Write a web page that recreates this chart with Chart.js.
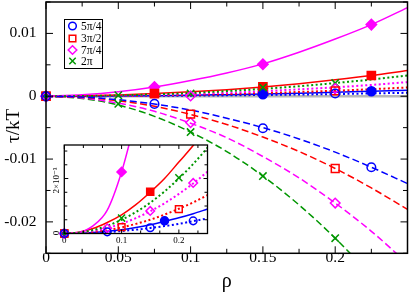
<!DOCTYPE html>
<html>
<head>
<meta charset="utf-8">
<script src="https://cdn.jsdelivr.net/npm/chart.js@4.4.1/dist/chart.umd.min.js"></script>
<style>
  html, body { margin: 0; padding: 0; background: #fff; }
  #wrap { position: relative; width: 409px; height: 294px; overflow: hidden; }
  #main { position: absolute; left: 0; top: 0; }
  #inset { position: absolute; left: 40px; top: 140px; }
</style>
</head>
<body>
<div id="wrap">
  <canvas id="main" width="409" height="294"></canvas>
  <canvas id="inset" width="175" height="110"></canvas>
</div>
<script>
// ---- main plot data ----
var rho = [0, 0.025, 0.05, 0.075, 0.1, 0.125, 0.15, 0.175, 0.2, 0.225, 0.25];

// solid curves (positive side)
var magSolid  = [0, 0.00024, 0.00072, 0.00148, 0.0025, 0.0037, 0.00515, 0.0070, 0.0091, 0.0114, 0.0141];
var redSolid  = [0, 0.00006, 0.0002, 0.00042, 0.0007, 0.00105, 0.00148, 0.002, 0.00262, 0.0033, 0.0041];
var blueSolid = [0, 0.00001, 0.00004, 0.00009, 0.00016, 0.00025, 0.00034, 0.00048, 0.00063, 0.0008, 0.00097];

// dotted curves (positive side)
var greenDot = [0, 0.00003, 0.00013, 0.0003, 0.00052, 0.00082, 0.00118, 0.0016, 0.0021, 0.00266, 0.0033];
var magDot   = [0, 0.00002, 0.00009, 0.0002, 0.00036, 0.00056, 0.0008, 0.0011, 0.00142, 0.0018, 0.00225];
var redDot   = [0, 0.00001, 0.00006, 0.00012, 0.00022, 0.00035, 0.0005, 0.00068, 0.00088, 0.00112, 0.0014];
var blueDot  = [0, 0.00001, 0.00002, 0.00005, 0.00009, 0.00014, 0.0002, 0.00027, 0.00035, 0.00045, 0.00055];

// dashed curves (negative side)
var blueDash  = [0, -0.00014, -0.00056, -0.00125, -0.0022, -0.0035, -0.005, -0.0068, -0.0089, -0.0113, -0.0139];
var redDash   = [0, -0.00018, -0.00072, -0.0016, -0.0029, -0.0045, -0.0065, -0.0088, -0.0115, -0.0146, -0.018];
var magDash   = [0, -0.00027, -0.0011, -0.0024, -0.0043, -0.0066, -0.0096, -0.013, -0.017, -0.0215, -0.0266];
var greenDash = [0, -0.00035, -0.0014, -0.0032, -0.0057, -0.0088, -0.0127, -0.0173, -0.0226, -0.0286, -0.0353];

// symbols
var magFillRho  = [0, 0.075, 0.15, 0.225];
var magFillTau  = [0, 0.00148, 0.00508, 0.0114];
var redFillRho  = [0, 0.075, 0.15, 0.225];
var redFillTau  = [0, 0.00043, 0.00148, 0.0033];
var blueFillRho = [0, 0.15, 0.225];
var blueFillTau = [0, 0.00032, 0.0008];
var blueOpenRho = [0, 0.075, 0.15, 0.225, 0.2];
var blueOpenTau = [0, -0.00122, -0.0051, -0.0113, 0.00043];
var redOpenRho  = [0, 0.1, 0.2, 0.2];
var redOpenTau  = [0, -0.00285, -0.0115, 0.00084];
var magOpenRho  = [0, 0.1, 0.2, 0.1, 0.2];
var magOpenTau  = [0, -0.0042, -0.017, 0.00005, 0.00122];
var greenXRho   = [0, 0.05, 0.1, 0.15, 0.2, 0.05, 0.1, 0.15, 0.2];
var greenXTau   = [0, -0.0012, -0.0057, -0.0127, -0.0226, 0.00016, 0.00043, 0.0014, 0.0021];

var mainXTicks  = [0, 0.025, 0.05, 0.075, 0.1, 0.125, 0.15, 0.175, 0.2, 0.225, 0.25];
var mainXLabels = ['0', '', '0.05', '', '0.1', '', '0.15', '', '0.2', '', ''];
var mainYTicks  = [-0.025, -0.02, -0.015, -0.01, -0.005, 0, 0.005, 0.01, 0.015];
var mainYLabels = ['', '-0.02', '', '-0.01', '', '0', '', '0.01', ''];

var legendNames = ['5\u03c0/4', '3\u03c0/2', '7\u03c0/4', '2\u03c0'];

// ---- inset data ----
var inRho = [0, 0.025, 0.05, 0.075, 0.1, 0.125, 0.15, 0.175, 0.2, 0.225, 0.25];
var inMagSolid  = [0, 0.00004, 0.00028, 0.00085, 0.00224, 0.0042];
var inRedSolid  = [0, 0.00005, 0.00018, 0.0004, 0.00068, 0.00105, 0.0015, 0.002, 0.0026, 0.0032, 0.0039];
var inBlueSolid = [0, 0.00001, 0.000036, 0.00008, 0.00014, 0.00022, 0.00032, 0.00044, 0.00057, 0.00072, 0.00089];
var inGreenDot  = [0, 0.00003, 0.000125, 0.00028, 0.0005, 0.00078, 0.00112, 0.00153, 0.002, 0.00253, 0.00312];
var inMagDot    = [0, 0.00002, 0.00009, 0.0002, 0.00036, 0.00056, 0.00081, 0.0011, 0.00144, 0.00182, 0.00225];
var inRedDot    = [0, 0.000014, 0.000056, 0.000126, 0.00022, 0.00035, 0.0005, 0.00069, 0.0009, 0.00113, 0.0014];
var inBlueDot   = [0, 0.000005, 0.000022, 0.00005, 0.000088, 0.00014, 0.0002, 0.00027, 0.00035, 0.00045, 0.00055];

var inMagFillRho  = [0, 0.1];
var inMagFillTau  = [0, 0.00224];
var inRedFillRho  = [0, 0.15];
var inRedFillTau  = [0, 0.00152];
var inBlueFillRho = [0, 0.175];
var inBlueFillTau = [0, 0.00046];
var inGreenXRho   = [0, 0.1, 0.2];
var inGreenXTau   = [0, 0.00056, 0.00203];
var inMagOpenRho  = [0, 0.075, 0.15, 0.225];
var inMagOpenTau  = [0, 0.00019, 0.00082, 0.00184];
var inRedOpenRho  = [0, 0.1, 0.2];
var inRedOpenTau  = [0, 0.00023, 0.00089];
var inBlueOpenRho = [0, 0.075, 0.15, 0.225];
var inBlueOpenTau = [0, 0.00006, 0.00021, 0.00046];

var inXTicks  = [0, 0.0333, 0.0667, 0.1, 0.1333, 0.1667, 0.2, 0.2333];
var inXLabels = ['0', '', '', '0.1', '', '', '0.2', ''];
var inYTicks  = [0, 0.0005, 0.001, 0.0015, 0.002, 0.0025, 0.003];
var inYLabels = ['0', '', '', '', '2\u00d710\u207b\u00b3', '', ''];

var BLUE = '#0000ff', RED = '#ff0000', MAG = '#ff00ff', GREEN = '#009600';
var SERIF = '"Liberation Serif", "DejaVu Serif", serif';

function pts(xs, ys) {
    return ys.map(function (y, i) { return { x: xs[i], y: y }; });
}

function curve(xs, ys, color, kind) {
    var dash = kind === 'dash' ? [7, 3.5] : kind === 'dot' ? [2, 2.5] : [];
    return {
        data: pts(xs, ys), showLine: true, borderColor: color, borderWidth: kind === 'dot' ? 2 : 1.5,
        borderDash: dash, pointRadius: 0, cubicInterpolationMode: 'monotone', order: 3
    };
}

function marks(xs, ys, color, style, filled, r) {
    return {
        data: pts(xs, ys), showLine: false, pointStyle: style, pointRadius: r,
        borderColor: color, pointBorderWidth: 1.5,
        backgroundColor: filled ? color : 'rgba(0,0,0,0)', clip: false, order: 1
    };
}

// drop the label overhang padding so the plot box sits where we put it
function noPad(s) {
    s.paddingTop = 0; s.paddingBottom = 0; s.paddingLeft = 0; s.paddingRight = 0;
}

// inward ticks on all four sides plus the frame
function tickFrame(xTicks, xLabels, yTicks, yLabels, majLen, minLen, frameW) {
    return {
        id: 'tickFrame',
        beforeDatasetsDraw: function (chart) {
            var ctx = chart.ctx, a = chart.chartArea;
            ctx.save();
            ctx.fillStyle = '#fff';
            ctx.fillRect(a.left, a.top, a.right - a.left, a.bottom - a.top);
            ctx.restore();
        },
        afterDraw: function (chart) {
            var ctx = chart.ctx, a = chart.chartArea;
            var xs = chart.scales.x, ys = chart.scales.y;
            ctx.save();
            ctx.strokeStyle = '#000';
            ctx.lineWidth = 1;
            ctx.beginPath();
            xTicks.forEach(function (v, i) {
                var px = xs.getPixelForValue(v);
                var len = xLabels[i] !== '' ? majLen : minLen;
                ctx.moveTo(px, a.bottom); ctx.lineTo(px, a.bottom - len);
                ctx.moveTo(px, a.top); ctx.lineTo(px, a.top + len);
            });
            yTicks.forEach(function (v, i) {
                var py = ys.getPixelForValue(v);
                var len = yLabels[i] !== '' ? majLen : minLen;
                ctx.moveTo(a.left, py); ctx.lineTo(a.left + len, py);
                ctx.moveTo(a.right, py); ctx.lineTo(a.right - len, py);
            });
            ctx.stroke();
            ctx.lineWidth = frameW;
            ctx.strokeRect(a.left, a.top, a.right - a.left, a.bottom - a.top);
            ctx.restore();
        }
    };
}

function drawMarker(ctx, style, x, y, r, color, filled) {
    ctx.save();
    ctx.strokeStyle = color;
    ctx.fillStyle = color;
    ctx.lineWidth = 1.5;
    ctx.beginPath();
    if (style === 'circle') {
        ctx.arc(x, y, r, 0, Math.PI * 2);
    } else if (style === 'rect') {
        ctx.rect(x - r, y - r, 2 * r, 2 * r);
    } else if (style === 'rectRot') {
        ctx.moveTo(x, y - r); ctx.lineTo(x + r, y); ctx.lineTo(x, y + r); ctx.lineTo(x - r, y); ctx.closePath();
    } else {
        ctx.moveTo(x - r, y - r); ctx.lineTo(x + r, y + r);
        ctx.moveTo(x + r, y - r); ctx.lineTo(x - r, y + r);
    }
    if (filled) ctx.fill();
    ctx.stroke();
    ctx.restore();
}

var mainExtras = {
    id: 'mainExtras',
    afterDraw: function (chart) {
        var ctx = chart.ctx;
        ctx.save();
        // axis titles
        ctx.fillStyle = '#000';
        ctx.textAlign = 'center';
        ctx.textBaseline = 'middle';
        ctx.font = '20px ' + SERIF;
        ctx.fillText('\u03c1', (chart.chartArea.left + chart.chartArea.right) / 2, 282);
        ctx.translate(14, 126);
        ctx.rotate(-Math.PI / 2);
        ctx.font = '19px ' + SERIF;
        ctx.fillText('\u03c4/kT', 0, 0);
        ctx.restore();

        // legend box
        ctx.save();
        ctx.fillStyle = '#fff';
        ctx.fillRect(64.5, 19.5, 38, 49);
        ctx.strokeStyle = '#000';
        ctx.lineWidth = 1;
        ctx.strokeRect(64.5, 19.5, 38, 49);
        var rows = [26, 38.5, 50, 61];
        var styles = ['circle', 'rect', 'rectRot', 'cross'];
        var colors = [BLUE, RED, MAG, GREEN];
        var sizes = [3.8, 3.3, 4.3, 3.2];
        ctx.font = '11.5px ' + SERIF;
        ctx.textBaseline = 'middle';
        ctx.textAlign = 'left';
        for (var i = 0; i < 4; i++) {
            drawMarker(ctx, styles[i], 72.5, rows[i], sizes[i], colors[i], false);
            ctx.fillStyle = '#000';
            ctx.fillText(legendNames[i], 81, rows[i] + 0.5);
        }
        ctx.restore();
    }
};

new Chart(document.getElementById('main'), {
    type: 'scatter',
    data: {
        datasets: [
            { data: pts([0, 0.25], [0, 0]), showLine: true, borderColor: '#b8b8b8', borderWidth: 2.5, pointRadius: 0, order: 5 },
            curve(rho, blueDash, BLUE, 'dash'),
            curve(rho, redDash, RED, 'dash'),
            curve(rho, magDash, MAG, 'dash'),
            curve(rho, greenDash, GREEN, 'dash'),
            curve(rho, greenDot, GREEN, 'dot'),
            curve(rho, magDot, MAG, 'dot'),
            curve(rho, redDot, RED, 'dot'),
            curve(rho, blueDot, BLUE, 'dot'),
            curve(rho, magSolid, MAG, 'solid'),
            curve(rho, redSolid, RED, 'solid'),
            curve(rho, blueSolid, BLUE, 'solid'),
            marks(blueOpenRho, blueOpenTau, BLUE, 'circle', false, 4.3),
            marks(redOpenRho, redOpenTau, RED, 'rect', false, 5.5),
            marks(magOpenRho, magOpenTau, MAG, 'rectRot', false, 4.8),
            marks(greenXRho, greenXTau, GREEN, 'crossRot', false, 5.2),
            marks(blueFillRho, blueFillTau, BLUE, 'circle', true, 4.5),
            marks(redFillRho, redFillTau, RED, 'rect', true, 5.8),
            marks(magFillRho, magFillTau, MAG, 'rectRot', true, 5.2)
        ]
    },
    options: {
        responsive: false,
        animation: false,
        devicePixelRatio: 1,
        layout: { autoPadding: false, padding: { top: 2, right: 1.5, left: 0, bottom: 0 } },
        plugins: { legend: { display: false }, tooltip: { enabled: false } },
        scales: {
            x: {
                type: 'linear', min: 0, max: 0.25,
                grid: { display: false, drawTicks: false }, border: { display: false },
                afterBuildTicks: function (s) { s.ticks = mainXTicks.map(function (v) { return { value: v }; }); },
                afterFit: function (s) { s.height = 40.7; noPad(s); },
                ticks: {
                    autoSkip: false, maxRotation: 0, minRotation: 0, padding: -4.5, color: '#000',
                    font: { family: SERIF, size: 15.5 },
                    callback: function (v, i) { return mainXLabels[i]; }
                }
            },
            y: {
                type: 'linear', min: -0.025, max: 0.015,
                grid: { display: false, drawTicks: false }, border: { display: false },
                afterBuildTicks: function (s) { s.ticks = mainYTicks.map(function (v) { return { value: v }; }); },
                afterFit: function (s) { s.width = 46; noPad(s); },
                ticks: {
                    autoSkip: false, padding: 9.5, color: '#000',
                    font: { family: SERIF, size: 15.5 },
                    callback: function (v, i) { return mainYLabels[i]; }
                }
            }
        }
    },
    plugins: [tickFrame(mainXTicks, mainXLabels, mainYTicks, mainYLabels, 7, 4.5, 1.5), mainExtras]
});

var insetExtras = {
    id: 'insetExtras',
    afterDraw: function (chart) {
        var ctx = chart.ctx, ys = chart.scales.y;
        ctx.save();
        ctx.fillStyle = '#000';
        ctx.textAlign = 'center';
        ctx.textBaseline = 'middle';
        ctx.font = '9px ' + SERIF;
        inYTicks.forEach(function (v, i) {
            if (inYLabels[i] === '') return;
            ctx.save();
            ctx.translate(17, ys.getPixelForValue(v) - (i === 0 ? 0.5 : -2));
            ctx.rotate(-Math.PI / 2);
            ctx.fillText(inYLabels[i], 0, 0);
            ctx.restore();
        });
        ctx.restore();
    }
};

new Chart(document.getElementById('inset'), {
    type: 'scatter',
    data: {
        datasets: [
            curve(inRho, inGreenDot, GREEN, 'dot'),
            curve(inRho, inMagDot, MAG, 'dot'),
            curve(inRho, inRedDot, RED, 'dot'),
            curve(inRho, inBlueDot, BLUE, 'dot'),
            curve(inRho.slice(0, inMagSolid.length), inMagSolid, MAG, 'solid'),
            curve(inRho, inRedSolid, RED, 'solid'),
            curve(inRho, inBlueSolid, BLUE, 'solid'),
            marks(inBlueOpenRho, inBlueOpenTau, BLUE, 'circle', false, 3.8),
            marks(inRedOpenRho, inRedOpenTau, RED, 'rect', false, 4.8),
            marks(inMagOpenRho, inMagOpenTau, MAG, 'rectRot', false, 4.3),
            marks(inGreenXRho, inGreenXTau, GREEN, 'crossRot', false, 5),
            marks(inBlueFillRho, inBlueFillTau, BLUE, 'circle', true, 4),
            marks(inRedFillRho, inRedFillTau, RED, 'rect', true, 5),
            marks(inMagFillRho, inMagFillTau, MAG, 'rectRot', true, 4.6)
        ]
    },
    options: {
        responsive: false,
        animation: false,
        devicePixelRatio: 1,
        layout: { autoPadding: false, padding: { top: 5, right: 7.5, left: 0, bottom: 0 } },
        plugins: { legend: { display: false }, tooltip: { enabled: false } },
        scales: {
            x: {
                type: 'linear', min: 0, max: 0.25,
                grid: { display: false, drawTicks: false }, border: { display: false },
                afterBuildTicks: function (s) { s.ticks = inXTicks.map(function (v) { return { value: v }; }); },
                afterFit: function (s) { s.height = 16.5; noPad(s); },
                ticks: {
                    autoSkip: false, maxRotation: 0, minRotation: 0, padding: 2, color: '#000',
                    font: { family: SERIF, size: 9 },
                    callback: function (v, i) { return inXLabels[i]; }
                }
            },
            y: {
                type: 'linear', min: 0, max: 0.00322,
                grid: { display: false, drawTicks: false }, border: { display: false },
                afterBuildTicks: function (s) { s.ticks = inYTicks.map(function (v) { return { value: v }; }); },
                afterFit: function (s) { s.width = 24.3; noPad(s); },
                ticks: { display: false }
            }
        }
    },
    plugins: [tickFrame(inXTicks, inXLabels, inYTicks, inYLabels, 4, 3, 1.3), insetExtras]
});
</script>
</body>
</html>
